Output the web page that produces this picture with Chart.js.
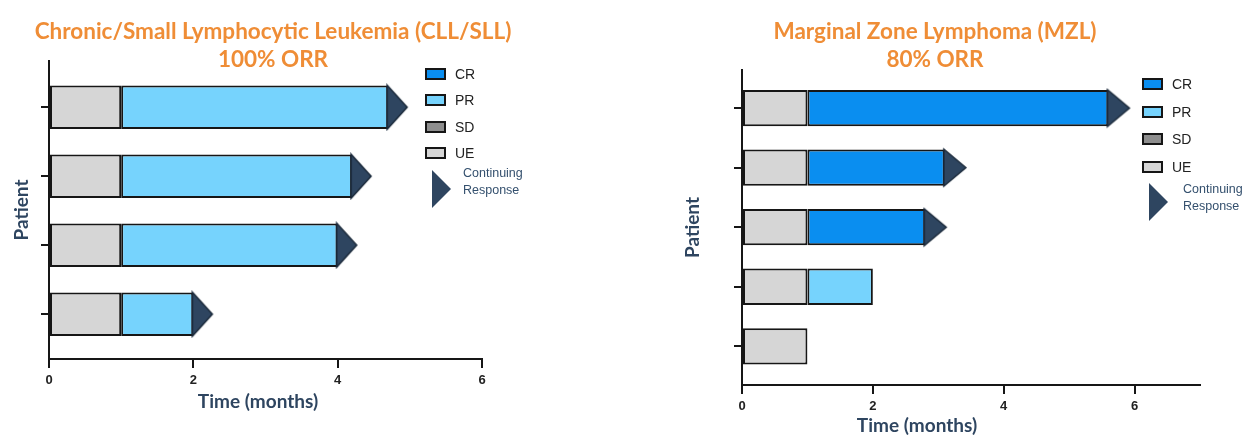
<!DOCTYPE html>
<html lang="en">
<head>
<meta charset="utf-8">
<title>Swimmer plots CLL/SLL y MZL</title>
<script src="https://cdn.jsdelivr.net/npm/chart.js@4.4.1/dist/chart.umd.min.js"></script>
<style>
  html, body { margin: 0; padding: 0; background: #fff; }
  #lienzo { position: relative; width: 1258px; height: 435px; overflow: hidden; }
  canvas { position: absolute; top: 0; }
  #graficoCLL { left: 0; }
  #graficoMZL { left: 670px; }
  .titulo {
    position: absolute; width: 600px; text-align: center;
    font-family: 'Lato', sans-serif; font-weight: 700; font-size: 22.5px;
    line-height: 28px; color: #ef8d36;
  }
  .ejeX {
    position: absolute; width: 300px; text-align: center;
    font-family: 'Lato', sans-serif; font-weight: 700; font-size: 19px;
    line-height: 22px; color: #2e4560;
  }
  .leyenda { position: absolute; font-family: 'Liberation Sans', Arial, sans-serif; }
  .fila { position: absolute; left: 0; height: 14px; white-space: nowrap; }
  .caja {
    position: absolute; left: 0; top: 1px; width: 21px; height: 12px;
    box-sizing: border-box; border: 2px solid #161616;
  }
  .fila span { position: absolute; left: 30px; top: -1px; font-size: 14px; color: #222; }
  .flecha {
    position: absolute; width: 0; height: 0;
    border-left: 19px solid #2e4560;
    border-top: 19px solid transparent; border-bottom: 19px solid transparent;
  }
  .continua {
    position: absolute; font-size: 12.5px; line-height: 17px; color: #34506e;
  }
</style>
</head>
<body>
<div id="lienzo">
  <canvas id="graficoCLL" width="629" height="435"></canvas>
  <canvas id="graficoMZL" width="588" height="435"></canvas>

  <div class="titulo" style="left:-27px; top:17px;">Chronic/Small Lymphocytic Leukemia (CLL/SLL)<br>100% ORR</div>
  <div class="titulo" style="left:635px; top:17px;">Marginal Zone Lymphoma (MZL)<br>80% ORR</div>

  <div class="ejeX" style="left:108px; top:390px;">Time (months)</div>
  <div class="ejeX" style="left:767px; top:414px;">Time (months)</div>

  <div class="leyenda" id="leyendaCLL" style="left:425px; top:67px;"></div>
  <div class="leyenda" id="leyendaMZL" style="left:1142px; top:77px;"></div>
</div>

<script>
/* ── DATOS ──
 Cada paciente ocupa una fila (1 = arriba). Los valores son meses. */
var pacientesCLL = [1, 2, 3, 4];
var finUeCLL = [1, 1, 1, 1];            /* fin del tramo UE */
var finPrCLL = [4.7, 4.2, 4.0, 2.0];    /* fin del tramo PR */
var continuaCLL = [true, true, true, true];
var ticksTiempoCLL = [0, 2, 4, 6];

var pacientesMZL = [1, 2, 3, 4, 5];
var finUeMZL = [1, 1, 1, 1, 1];
var finCrMZL = [5.6, 3.1, 2.8, null, null];
var finPrMZL = [null, null, null, 2.0, null];
var continuaMZL = [true, true, true, false, false];
var ticksTiempoMZL = [0, 2, 4, 6];

var respuestas = ['CR', 'PR', 'SD', 'UE'];
var textoContinua = ['Continuing', 'Response'];

/* Colores de cada tipo de respuesta */
var colores = { CR: '#0a8ef0', PR: '#76d3fd', SD: '#8e8e8e', UE: '#d6d6d6' };
var colorBorde = '#161616';
var colorFlecha = '#2e4560';

Chart.defaults.font.family = "'Liberation Sans', Arial, sans-serif";
Chart.defaults.animation = false;

/* ── FUNCIÓN: crearFlecha ──
 Dibuja el triángulo de "respuesta continua" en un canvas pequeño que se usa
 como pointStyle. La base del triángulo queda en el centro del canvas. */
function crearFlecha(ancho, alto) {
    var c = document.createElement('canvas');
    c.width = ancho * 2 + 4;
    c.height = alto + 4;
    var ctx = c.getContext('2d');
    var cx = c.width / 2;
    ctx.beginPath();
    ctx.moveTo(cx - 1, 2);
    ctx.lineTo(cx + ancho, 2 + alto / 2);
    ctx.lineTo(cx - 1, 2 + alto);
    ctx.closePath();
    ctx.fillStyle = colorFlecha;
    ctx.fill();
    ctx.lineWidth = 1.5;
    ctx.strokeStyle = '#1b2a3b';
    ctx.stroke();
    return c;
}

/* Convierte los finales de cada tramo en barras flotantes [inicio, fin] */
function tramos(pacientes, inicios, finales) {
    var datos = [];
    for (var i = 0; i < pacientes.length; i++) {
        if (finales[i] === null) continue;
        datos.push({ x: [inicios[i], finales[i]], y: pacientes[i] });
    }
    return datos;
}

/* Posición de cada flecha: final del último tramo del paciente */
function flechas(pacientes, continua, listas) {
    var datos = [];
    for (var i = 0; i < pacientes.length; i++) {
        if (!continua[i]) continue;
        var fin = 0;
        listas.forEach(function (l) { if (l[i] !== null && l[i] > fin) fin = l[i]; });
        datos.push({ x: fin, y: pacientes[i] });
    }
    return datos;
}

function datasetBarra(nombre, datos, grosor) {
    return {
        type: 'bar',
        label: nombre,
        data: datos,
        backgroundColor: colores[nombre],
        borderColor: colorBorde,
        borderWidth: 2,
        borderSkipped: false,
        grouped: false,
        categoryPercentage: 1,
        barPercentage: grosor,
        order: 1
    };
}

/* ── FUNCIÓN: crearSwimmer ──
 Crea un gráfico de barras horizontales con ejes fijos. */
function crearSwimmer(idCanvas, cfg) {
    new Chart(document.getElementById(idCanvas), {
        data: { datasets: cfg.datasets },
        options: {
            indexAxis: 'y',
            responsive: false,
            layout: { padding: { top: cfg.arriba, right: cfg.derecha, left: 0, bottom: 0 } },
            plugins: { legend: { display: false }, tooltip: { enabled: false } },
            scales: {
                x: {
                    type: 'linear',
                    min: 0,
                    max: cfg.maxX,
                    offset: false,
                    afterBuildTicks: function (s) { s.ticks = cfg.ticksX.map(function (v) { return { value: v }; }); },
                    afterFit: function (s) { s.height = cfg.altoEjeX; },
                    border: { display: true, color: colorBorde, width: 2 },
                    grid: { offset: false, drawOnChartArea: false, drawTicks: true, tickLength: 9, color: colorBorde, lineWidth: 2 },
                    ticks: { color: '#222', padding: 5, font: { size: 13, weight: 'bold' } }
                },
                y: {
                    type: 'linear',
                    reverse: true,
                    min: cfg.minY,
                    max: cfg.maxY,
                    offset: false, /* sin esto las barras se desplazan media fila */
                    afterBuildTicks: function (s) { s.ticks = cfg.pacientes.map(function (v) { return { value: v }; }); },
                    afterFit: function (s) { s.width = cfg.anchoEjeY; },
                    border: { display: true, color: colorBorde, width: 2 },
                    grid: { offset: false, drawOnChartArea: false, drawTicks: true, tickLength: 8, color: colorBorde, lineWidth: 2 },
                    ticks: { display: false },
                    title: {
                        display: true,
                        text: 'Patient',
                        color: '#2e4560',
                        padding: { top: cfg.padTitulo, bottom: 0 },
                        font: { family: "'Lato', sans-serif", size: 19, weight: 'bold' }
                    }
                }
            }
        }
    });
}

/* ── Gráfico izquierdo: CLL/SLL ── */
crearSwimmer('graficoCLL', {
    arriba: 61, derecha: 147, anchoEjeY: 49, altoEjeX: 76, padTitulo: 10,
    maxX: 6, ticksX: ticksTiempoCLL, minY: 0.33, maxY: 4.65, pacientes: pacientesCLL,
    datasets: [
        {
            type: 'scatter',
            label: 'Continuing Response',
            data: flechas(pacientesCLL, continuaCLL, [finUeCLL, finPrCLL]),
            pointStyle: crearFlecha(19, 44),
            pointRadius: 10,
            order: 0
        },
        datasetBarra('UE', tramos(pacientesCLL, pacientesCLL.map(function () { return 0; }), finUeCLL), 0.63),
        datasetBarra('PR', tramos(pacientesCLL, finUeCLL, finPrCLL), 0.63)
    ]
});

/* ── Gráfico derecho: MZL ── */
crearSwimmer('graficoMZL', {
    arriba: 70, derecha: 58, anchoEjeY: 72, altoEjeX: 50, padTitulo: 11,
    maxX: 7, ticksX: ticksTiempoMZL, minY: 0.36, maxY: 5.65, pacientes: pacientesMZL,
    datasets: [
        {
            type: 'scatter',
            label: 'Continuing Response',
            data: flechas(pacientesMZL, continuaMZL, [finUeMZL, finCrMZL, finPrMZL]),
            pointStyle: crearFlecha(21, 37),
            pointRadius: 10,
            order: 0
        },
        datasetBarra('UE', tramos(pacientesMZL, pacientesMZL.map(function () { return 0; }), finUeMZL), 0.61),
        datasetBarra('CR', tramos(pacientesMZL, finUeMZL, finCrMZL), 0.61),
        datasetBarra('PR', tramos(pacientesMZL, finUeMZL, finPrMZL), 0.61)
    ]
});

/* ── Leyendas en HTML ── */
function crearLeyenda(id, paso, yFlecha, xTexto, yTexto) {
    var cont = document.getElementById(id);
    respuestas.forEach(function (r, i) {
        var fila = document.createElement('div');
        fila.className = 'fila';
        fila.style.top = (i * paso) + 'px';
        fila.innerHTML = '<div class="caja" style="background:' + colores[r] + '"></div><span>' + r + '</span>';
        cont.appendChild(fila);
    });
    var f = document.createElement('div');
    f.className = 'flecha';
    f.style.left = '7px';
    f.style.top = yFlecha + 'px';
    cont.appendChild(f);
    var t = document.createElement('div');
    t.className = 'continua';
    t.style.left = xTexto + 'px';
    t.style.top = yTexto + 'px';
    t.innerHTML = textoContinua.join('<br>');
    cont.appendChild(t);
}
crearLeyenda('leyendaCLL', 26.3, 103, 38, 98);
crearLeyenda('leyendaMZL', 27.5, 106, 41, 104);
</script>
</body>
</html>
